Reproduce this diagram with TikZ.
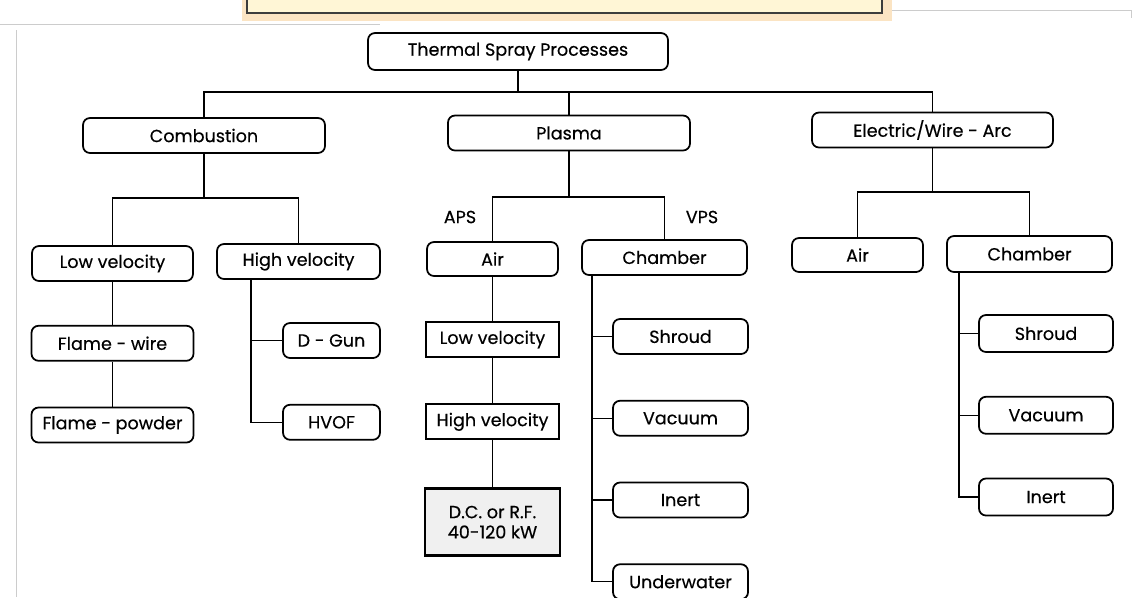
\documentclass[tikz,border=0pt]{standalone}
\usepackage{fontspec}
\setmainfont{Poppins}[FakeBold=0.4]
\usetikzlibrary{positioning,calc}
\definecolor{band}{HTML}{FBE4C3}
\definecolor{cream}{HTML}{FFF6D6}
\definecolor{frame}{HTML}{3C3C3C}

\begin{document}
\begin{tikzpicture}[
  every node/.style={font=\fontsize{10}{11.5}\selectfont,align=center},
  proc/.style={rectangle,draw,rounded corners=4pt,line width=1pt,
               minimum height=7mm,inner sep=2pt},
  sqbox/.style={rectangle,draw,line width=1.3pt,minimum height=7mm,
               minimum width=2.66cm,inner sep=2pt},
  lbl/.style={inner sep=1pt},
  link/.style={line width=0.8pt},
  scan/.style={gray!40,line width=0.5pt},
  node distance=9mm,
]
\useasboundingbox (0,0) rectangle (22.66,-11.94);

% slide band at the top
\fill[band] (4.84,0.1) rectangle (17.84,-0.42);
\draw[frame,line width=1.2pt,fill=cream] (4.94,0.3) rectangle (17.64,-0.26);
\draw[scan] (0,-0.48) -- (7.6,-0.48);
\draw[scan] (17.84,-0.2) -- (22.62,-0.2) -- (22.62,-0.36);
\draw[scan] (0.32,-0.6) -- (0.32,-11.94);

% first two levels
\node[proc,minimum width=6cm,minimum height=7.4mm] (root) at (10.36,-1.03) {Thermal Spray Processes};
\node[proc,minimum width=4.84cm] (comb) at (4.08,-2.71) {Combustion};
\node[proc,minimum width=4.84cm] (plas) at (11.38,-2.66) {Plasma};
\node[proc,minimum width=4.82cm] (elec) at (18.65,-2.60) {Electric/Wire - Arc};

% combustion
\node[proc,minimum width=3.22cm] (lowc) at (2.25,-5.27) {Low velocity};
\node[proc,minimum width=3.26cm] (highc) at (5.97,-5.23) {High velocity};
\node[proc,minimum width=3.24cm,below=8.6mm of lowc] (flamew) {Flame - wire};
\node[proc,minimum width=3.24cm,below=9mm of flamew] (flamep) {Flame - powder};
\node[proc,minimum width=1.94cm] (dgun) at (6.63,-6.81) {D - Gun};
\node[proc,minimum width=1.94cm,below=9mm of dgun] (hvof) {HVOF};

% plasma
\node[lbl] (aps) at (9.2,-4.34) {APS};
\node[lbl] (vps) at (14.04,-4.34) {VPS};
\node[proc,minimum width=2.62cm,minimum height=6.8mm] (airp) at (9.85,-5.18) {Air};
\node[sqbox,below=8.8mm of airp] (lowp) {Low velocity};
\node[sqbox,below=9mm of lowp] (highp) {High velocity};
\node[sqbox,fill=gray!12,minimum width=2.7cm,minimum height=13.4mm,
      below=9.4mm of highp] (dcrf) {D.C. or R.F.\\40-120 kW};
\node[proc,minimum width=3.3cm] (champ) at (13.29,-5.15) {Chamber};
\node[proc,minimum width=2.7cm] (shroudp) at (13.61,-6.73) {Shroud};
\node[proc,minimum width=2.7cm,below=9mm of shroudp] (vacuump) {Vacuum};
\node[proc,minimum width=2.7cm,below=9mm of vacuump] (inertp) {Inert};
\node[proc,minimum width=2.7cm,below=9mm of inertp] (underp) {Underwater};

% electric / wire arc
\node[proc,minimum width=2.62cm,minimum height=6.8mm] (aire) at (17.15,-5.10) {Air};
\node[proc,minimum width=3.3cm,minimum height=7.2mm] (chame) at (20.59,-5.08) {Chamber};
\node[proc,minimum width=2.68cm,minimum height=7.4mm] (shroude) at (20.92,-6.67) {Shroud};
\node[proc,minimum width=2.68cm,minimum height=7.4mm,below=8.6mm of shroude] (vacuume) {Vacuum};
\node[proc,minimum width=2.68cm,minimum height=7.4mm,below=8.6mm of vacuume] (inerte) {Inert};

% buses
\coordinate (topbus) at (0,-1.84);
\coordinate (combus) at (0,-3.96);
\coordinate (plabus) at (0,-3.94);
\coordinate (elebus) at (0,-3.84);

\draw[link] (root.south) -- (root.south |- topbus);
\draw[link] (comb.north) |- (elec.north |- topbus) -- (elec.north);
\draw[link] (plas.north) -- (plas.north |- topbus);

\draw[link] (comb.south) -- (comb.south |- combus);
\draw[link] (lowc.north) |- (highc.north |- combus) -- (highc.north);
\draw[link] (lowc) -- (flamew);
\draw[link] (flamew) -- (flamep);
\draw[link] ([xshift=7mm]highc.south west) |- (dgun.west);
\draw[link] ([xshift=7mm]highc.south west) |- (hvof.west);

\draw[link] (plas.south) -- (plas.south |- plabus);
\draw[link] (airp.north) |- (champ.north |- plabus) -- (champ.north);
\draw[link] (airp) -- (lowp);
\draw[link] (lowp) -- (highp);
\draw[link] (highp) -- (dcrf);
\foreach \n in {shroudp,vacuump,inertp,underp}
  \draw[link] ([xshift=2.2mm]champ.south west) |- (\n.west);

\draw[link] (elec.south) -- (elec.south |- elebus);
\draw[link] (aire.north) |- (chame.north |- elebus) -- (chame.north);
\foreach \n in {shroude,vacuume,inerte}
  \draw[link] ([xshift=2.6mm]chame.south west) |- (\n.west);
\end{tikzpicture}
\end{document}
